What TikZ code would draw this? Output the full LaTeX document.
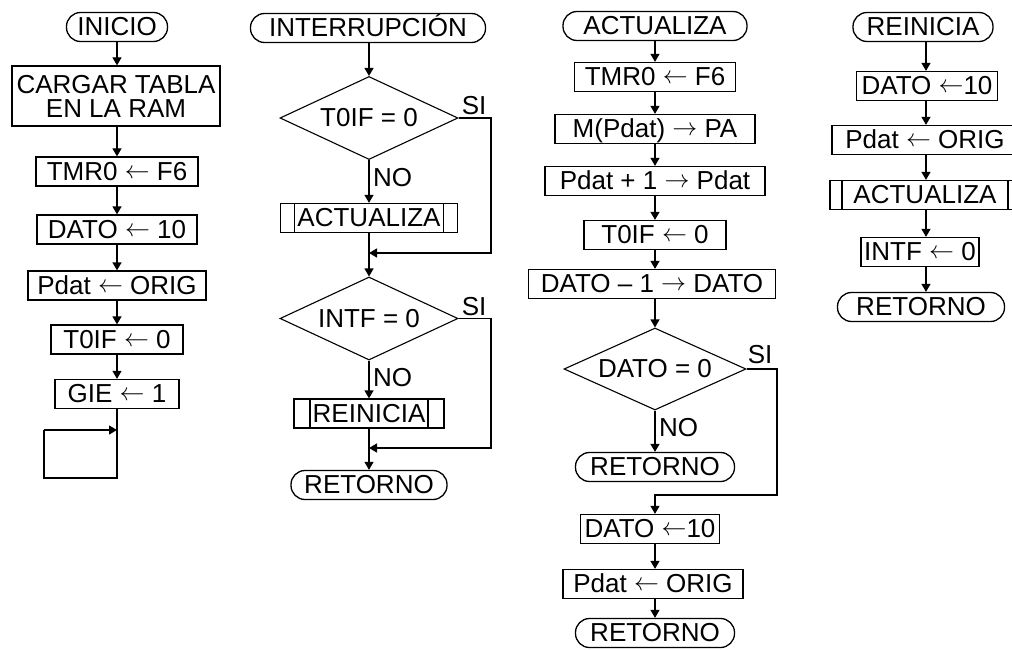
\documentclass[tikz,border=0pt]{standalone}
\usepackage{fontspec}
\setmainfont{Liberation Sans}
\usetikzlibrary{arrows.meta,shapes.geometric,calc}
% text placed in a diamond without widening it
\newcommand\dtext[1]{\raisebox{-.345em}[0pt][0pt]{\makebox[0pt]{#1}}}
% assignment arrows
\newcommand\la{\raisebox{.08em}{$\leftarrow$}}
\newcommand\ra{\raisebox{.08em}{$\rightarrow$}}
\begin{document}
\begin{tikzpicture}[x=1pt,y=-1pt,
  every node/.style={font=\fontsize{26}{24}\selectfont},
  box/.style={draw, line width=1.3pt, inner sep=0pt, minimum height=29pt,
    text height=17.9pt, text depth=0pt},
  term/.style={box, rounded corners=14pt},
  sub/.style={box, path picture={
    \draw[line width=1.3pt]
      ([xshift=#1]path picture bounding box.north west) --
      ([xshift=#1]path picture bounding box.south west)
      ([xshift=-#1]path picture bounding box.north east) --
      ([xshift=-#1]path picture bounding box.south east);}},
  dec/.style={draw, line width=1.1pt, diamond, inner sep=0pt},
  lbl/.style={inner sep=1pt, text height=17.9pt, text depth=0pt},
  arr/.style={line width=1.3pt, -{Triangle[length=8pt,width=9pt]}},
  ln/.style={line width=1.3pt}
]
\useasboundingbox (0,0) rectangle (1012,650);
\clip (0,0) rectangle (1012,650);
\fill[white] (0,0) rectangle (1012,650);

% ---------------- INICIO ----------------
\node[term, minimum width=101pt] (ini) at (117,27) {INICIO};
\node[draw, line width=1.3pt, inner sep=0pt, minimum width=208pt,
      minimum height=60pt, align=center] (carg) at (116,96)
      {CARGAR TABLA\\EN LA RAM};
\node[box, minimum width=162pt] (tmr1) at (117,171.5) {TMR0 \la{} F6};
\node[box, minimum width=160pt] (dat1) at (117,229.5) {DATO \la{} 10};
\node[box, minimum width=178pt] (pd1) at (117,285.5) {Pdat \la{} ORIG};
\node[box, minimum width=132pt] (tf1) at (117,339.5) {T0IF \la{} 0};
\node[box, minimum width=124pt] (gie) at (117,394) {GIE \la{} 1};
\coordinate (l1) at (117,478);
\coordinate (l2) at (44,478);
\coordinate (l3) at (44,430);
\coordinate (l4) at (117,430);

\draw[arr] (ini) -- (ini |- carg.north);
\draw[arr] (carg.south -| ini) -- (tmr1);
\draw[arr] (tmr1) -- (dat1);
\draw[arr] (dat1) -- (pd1);
\draw[arr] (pd1) -- (tf1);
\draw[arr] (tf1) -- (gie);
\draw[ln] (gie) -- (l1) -- (l2) -- (l3);
\draw[arr] (l3) -- (l4);

% ---------------- INTERRUPCION ----------------
\node[term, minimum width=235pt] (intr) at (368,28) {INTERRUPCIÓN};
\node[dec, minimum width=178pt, minimum height=83pt] (d1) at (369,118) {\dtext{T0IF = 0}};
\node[sub=14pt, minimum width=177pt] (act2) at (369,218) {ACTUALIZA};
\coordinate (j1) at (369,253);
\coordinate (r1) at (491,253);
\node[dec, minimum width=178pt, minimum height=83pt] (d2) at (369,318.5) {\dtext{INTF = 0}};
\node[sub=16pt, minimum width=150pt] (rei2) at (369,413.5) {REINICIA};
\coordinate (j2) at (369,448);
\coordinate (r2) at (491,448);
\node[term, minimum width=156pt] (ret2) at (369,485) {RETORNO};
\node[lbl, anchor=south west] (si1) at ($(d1.east)+(2,-2)$) {SI};
\node[lbl, anchor=north west] (no1) at ($(d1.south)+(3,7)$) {NO};
\node[lbl, anchor=south west] (si2) at ($(d2.east)+(2,-2)$) {SI};
\node[lbl, anchor=north west] (no2) at ($(d2.south)+(3,7)$) {NO};

\draw[arr] (intr.south -| d1) -- (d1);
\draw[arr] (d1) -- (act2);
\draw[arr] (d1.east) -| (r1) -- (j1);
\draw[ln] (act2) -- (j1);
\draw[arr] (j1) -- (d2);
\draw[arr] (d2) -- (rei2);
\draw[arr] (d2.east) -| (r2) -- (j2);
\draw[ln] (rei2) -- (j2);
\draw[arr] (j2) -- (ret2);

% ---------------- ACTUALIZA ----------------
\node[term, minimum width=184pt] (act3) at (655,26) {ACTUALIZA};
\node[box, minimum width=161pt] (tmr3) at (655,77) {TMR0 \la{} F6};
\node[box, minimum width=200pt] (mp3) at (655,129) {M(Pdat) \ra{} PA};
\node[box, minimum width=220pt] (inc3) at (655,181) {Pdat + 1 \ra{} Pdat};
\node[box, minimum width=142pt] (tf3) at (655,235) {T0IF \la{} 0};
\node[box, minimum width=247pt] (dec3) at (652,284) {DATO – 1 \ra{} DATO};
\node[dec, minimum width=182pt, minimum height=82pt] (d3) at (655,369) {\dtext{DATO = 0}};
\node[term, minimum width=159pt] (ret3a) at (655,467) {RETORNO};
\coordinate (j3) at (655,495);
\coordinate (r3) at (777,495);
\node[box, minimum width=139pt] (dat3) at (650,529) {DATO \la10};
\node[box, minimum width=180pt] (pd3) at (653,584) {Pdat \la{} ORIG};
\node[term, minimum width=159pt] (ret3b) at (655,633) {RETORNO};
\node[lbl, anchor=south west] (si3) at ($(d3.east)+(0,-4)$) {SI};
\node[lbl, anchor=north west] (no3) at ($(d3.south)+(3,7)$) {NO};

\draw[arr] (act3) -- (tmr3);
\draw[arr] (tmr3) -- (mp3);
\draw[arr] (mp3) -- (inc3);
\draw[arr] (inc3) -- (tf3);
\draw[arr] (tf3) -- (tf3 |- dec3.north);
\draw[arr] (dec3.south -| d3) -- (d3);
\draw[arr] (d3) -- (ret3a);
\draw[arr] (d3.east) -| (r3) -- (j3) -- (j3 |- dat3.north);
\draw[arr] (dat3.south -| j3) -- (j3 |- pd3.north);
\draw[arr] (pd3.south -| j3) -- (ret3b);

% ---------------- REINICIA ----------------
\coordinate (c4) at (926,0);
\node[term, minimum width=140pt] (rei4) at (923,27) {REINICIA};
\node[box, minimum width=141pt] (dat4) at (927,86) {DATO \la10};
\node[box, minimum width=186pt] (pd4) at (925,140) {Pdat \la{} ORIG};
\node[sub=12pt, minimum width=190pt] (act4) at (925,195) {ACTUALIZA};
\node[box, minimum width=118pt] (intf) at (920,252) {INTF \la{} 0};
\node[term, minimum width=167pt] (ret4) at (921,307) {RETORNO};

\draw[arr] (rei4.south -| c4) -- (c4 |- dat4.north);
\draw[arr] (dat4.south -| c4) -- (c4 |- pd4.north);
\draw[arr] (pd4.south -| c4) -- (c4 |- act4.north);
\draw[arr] (act4.south -| c4) -- (c4 |- intf.north);
\draw[arr] (intf.south -| c4) -- (c4 |- ret4.north);
\end{tikzpicture}
\end{document}
